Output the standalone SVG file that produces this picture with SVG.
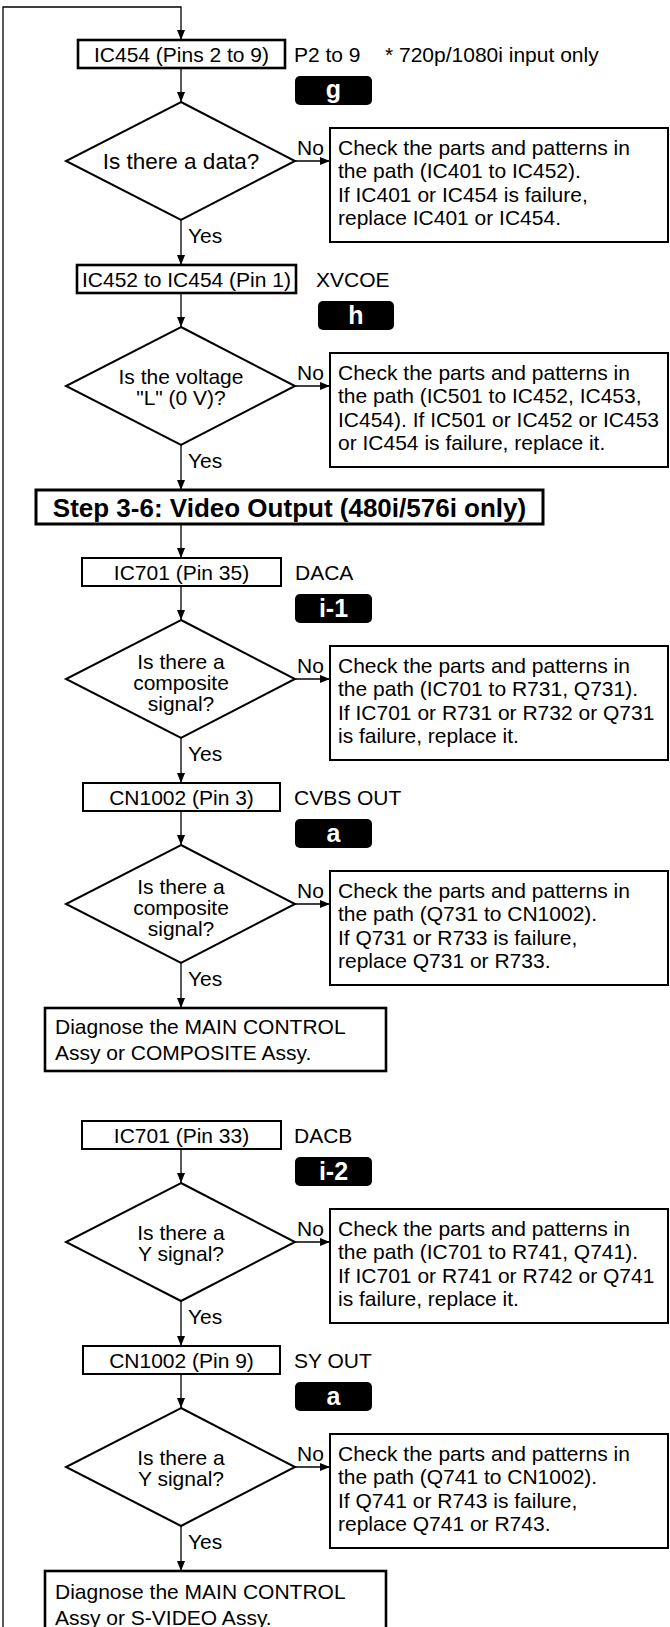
<svg xmlns="http://www.w3.org/2000/svg" width="670" height="1627" viewBox="0 0 670 1627">
<style>
.t{font-family:"Liberation Sans",Arial,sans-serif;font-size:21px;fill:#000}
.m{text-anchor:middle}
.h{font-family:"Liberation Sans",Arial,sans-serif;font-size:26px;font-weight:bold;fill:#000;text-anchor:middle}
.bt{font-family:"Liberation Sans",Arial,sans-serif;font-size:25px;font-weight:bold;fill:#fff;text-anchor:middle}
.box{fill:#fff;stroke:#000;stroke-width:2}
.thick{stroke-width:2.6}
.hdr{fill:#fff;stroke:#000;stroke-width:3}
.dia{fill:#fff;stroke:#000;stroke-width:2}
.badge{fill:#000}
.c{fill:none;stroke:#000;stroke-width:1.3;marker-end:url(#ah)}
</style>
<defs>
<marker id="ah" markerUnits="userSpaceOnUse" markerWidth="10" markerHeight="8" refX="10" refY="4" orient="auto">
<path d="M0,0 L10,4 L0,8 z" fill="#000"/>
</marker>
</defs>
<rect width="670" height="1627" fill="#fff"/>

<g id="connectors">
<path class="c" d="M3,1640 V7 H181 V40"/>
<path class="c" d="M181,68 V102"/>
<path class="c" d="M295,161 H330"/>
<path class="c" d="M181,220 V265"/>
<path class="c" d="M181,293 V327"/>
<path class="c" d="M295,386 H330"/>
<path class="c" d="M181,445 V490"/>
<path class="c" d="M181,524 V558"/>
<path class="c" d="M181,586 V620"/>
<path class="c" d="M295,679 H330"/>
<path class="c" d="M181,738 V783"/>
<path class="c" d="M181,811 V845"/>
<path class="c" d="M295,904 H330"/>
<path class="c" d="M181,963 V1008"/>
<path class="c" d="M181,1149 V1183"/>
<path class="c" d="M295,1242 H330"/>
<path class="c" d="M181,1301 V1346"/>
<path class="c" d="M181,1374 V1408"/>
<path class="c" d="M295,1467 H330"/>
<path class="c" d="M181,1526 V1571"/>
<text class="t" x="297" y="154.5">No</text>
<text class="t" x="188" y="242.5">Yes</text>
<text class="t" x="297" y="379.5">No</text>
<text class="t" x="188" y="467.5">Yes</text>
<text class="t" x="297" y="672.5">No</text>
<text class="t" x="188" y="760.5">Yes</text>
<text class="t" x="297" y="897.5">No</text>
<text class="t" x="188" y="985.5">Yes</text>
<text class="t" x="297" y="1235.5">No</text>
<text class="t" x="188" y="1323.5">Yes</text>
<text class="t" x="297" y="1460.5">No</text>
<text class="t" x="188" y="1548.5">Yes</text>
</g>

<g id="n1">
<rect class="box thick" x="78" y="40" width="207" height="28"/>
<text class="t m" x="181.5" y="61.5">IC454 (Pins 2 to 9)</text>
<text class="t" x="294" y="61.5">P2 to 9</text>
<text class="t" x="385" y="61.5">* 720p/1080i input only</text>
</g>
<g id="badge-g"><rect class="badge" x="295" y="76" width="77" height="29" rx="5"/><text class="bt" x="333.5" y="98">g</text></g>
<g id="d1">
<polygon class="dia" points="181,102 295,161 181,220 66,161"/>
<text class="t m" x="181" y="169" style="font-size:22.5px">Is there a data?</text>
</g>
<g id="c1">
<rect class="box" x="330" y="128" width="338" height="114"/>
<text class="t" x="338" y="154.5">Check the parts and patterns in</text>
<text class="t" x="338" y="178">the path (IC401 to IC452).</text>
<text class="t" x="338" y="201.5">If IC401 or IC454 is failure,</text>
<text class="t" x="338" y="225">replace IC401 or IC454.</text>
</g>

<g id="n2">
<rect class="box thick" x="77" y="265" width="219" height="28"/>
<text class="t m" x="186.5" y="286.5">IC452 to IC454 (Pin 1)</text>
<text class="t" x="316" y="286.5">XVCOE</text>
</g>
<g id="badge-h"><rect class="badge" x="318" y="301" width="76" height="29" rx="5"/><text class="bt" x="356" y="324">h</text></g>
<g id="d2">
<polygon class="dia" points="181,327 295,386 181,445 66,386"/>
<text class="t m" x="181" y="383.5">Is the voltage</text>
<text class="t m" x="181" y="404.5">"L" (0 V)?</text>
</g>
<g id="c2">
<rect class="box" x="330" y="353" width="338" height="114"/>
<text class="t" x="338" y="379.5">Check the parts and patterns in</text>
<text class="t" x="338" y="403">the path (IC501 to IC452, IC453,</text>
<text class="t" x="338" y="426.5">IC454). If IC501 or IC452 or IC453</text>
<text class="t" x="338" y="450">or IC454 is failure, replace it.</text>
</g>

<g id="step">
<rect class="hdr" x="36" y="490" width="507" height="34"/>
<text class="h" x="289.5" y="516.5">Step 3-6: Video Output (480i/576i only)</text>
</g>

<g id="n3">
<rect class="box" x="82" y="558" width="199" height="28"/>
<text class="t m" x="181.5" y="579.5">IC701 (Pin 35)</text>
<text class="t" x="295" y="579.5">DACA</text>
</g>
<g id="badge-i1"><rect class="badge" x="295" y="594" width="77" height="29" rx="5"/><text class="bt" x="333.5" y="617">i-1</text></g>
<g id="d3">
<polygon class="dia" points="181,620 295,679 181,738 66,679"/>
<text class="t m" x="181" y="668.5">Is there a</text>
<text class="t m" x="181" y="689.5">composite</text>
<text class="t m" x="181" y="710.5">signal?</text>
</g>
<g id="c3">
<rect class="box" x="330" y="646" width="338" height="114"/>
<text class="t" x="338" y="672.5">Check the parts and patterns in</text>
<text class="t" x="338" y="696">the path (IC701 to R731, Q731).</text>
<text class="t" x="338" y="719.5">If IC701 or R731 or R732 or Q731</text>
<text class="t" x="338" y="743">is failure, replace it.</text>
</g>

<g id="n4">
<rect class="box" x="83" y="783" width="197" height="28"/>
<text class="t m" x="181.5" y="804.5">CN1002 (Pin 3)</text>
<text class="t" x="294" y="804.5">CVBS OUT</text>
</g>
<g id="badge-a1"><rect class="badge" x="295" y="819" width="77" height="29" rx="5"/><text class="bt" x="333.5" y="842">a</text></g>
<g id="d4">
<polygon class="dia" points="181,845 295,904 181,963 66,904"/>
<text class="t m" x="181" y="893.5">Is there a</text>
<text class="t m" x="181" y="914.5">composite</text>
<text class="t m" x="181" y="935.5">signal?</text>
</g>
<g id="c4">
<rect class="box" x="330" y="871" width="338" height="114"/>
<text class="t" x="338" y="897.5">Check the parts and patterns in</text>
<text class="t" x="338" y="921">the path (Q731 to CN1002).</text>
<text class="t" x="338" y="944.5">If Q731 or R733 is failure,</text>
<text class="t" x="338" y="968">replace Q731 or R733.</text>
</g>

<g id="diag1">
<rect class="box thick" x="45" y="1008" width="341" height="63"/>
<text class="t" x="55" y="1034">Diagnose the MAIN CONTROL</text>
<text class="t" x="55" y="1060">Assy or COMPOSITE Assy.</text>
</g>

<g id="n5">
<rect class="box" x="82" y="1121" width="199" height="28"/>
<text class="t m" x="181.5" y="1142.5">IC701 (Pin 33)</text>
<text class="t" x="294" y="1142.5">DACB</text>
</g>
<g id="badge-i2"><rect class="badge" x="295" y="1157" width="77" height="29" rx="5"/><text class="bt" x="333.5" y="1180">i-2</text></g>
<g id="d5">
<polygon class="dia" points="181,1183 295,1242 181,1301 66,1242"/>
<text class="t m" x="181" y="1239.5">Is there a</text>
<text class="t m" x="181" y="1260.5">Y signal?</text>
</g>
<g id="c5">
<rect class="box" x="330" y="1209" width="338" height="114"/>
<text class="t" x="338" y="1235.5">Check the parts and patterns in</text>
<text class="t" x="338" y="1259">the path (IC701 to R741, Q741).</text>
<text class="t" x="338" y="1282.5">If IC701 or R741 or R742 or Q741</text>
<text class="t" x="338" y="1306">is failure, replace it.</text>
</g>

<g id="n6">
<rect class="box" x="83" y="1346" width="197" height="28"/>
<text class="t m" x="181.5" y="1367.5">CN1002 (Pin 9)</text>
<text class="t" x="294" y="1367.5">SY OUT</text>
</g>
<g id="badge-a2"><rect class="badge" x="295" y="1382" width="77" height="29" rx="5"/><text class="bt" x="333.5" y="1405">a</text></g>
<g id="d6">
<polygon class="dia" points="181,1408 295,1467 181,1526 66,1467"/>
<text class="t m" x="181" y="1464.5">Is there a</text>
<text class="t m" x="181" y="1485.5">Y signal?</text>
</g>
<g id="c6">
<rect class="box" x="330" y="1434" width="338" height="114"/>
<text class="t" x="338" y="1460.5">Check the parts and patterns in</text>
<text class="t" x="338" y="1484">the path (Q741 to CN1002).</text>
<text class="t" x="338" y="1507.5">If Q741 or R743 is failure,</text>
<text class="t" x="338" y="1531">replace Q741 or R743.</text>
</g>

<g id="diag2">
<rect class="box thick" x="45" y="1571" width="341" height="70"/>
<text class="t" x="55" y="1599">Diagnose the MAIN CONTROL</text>
<text class="t" x="55" y="1625">Assy or S-VIDEO Assy.</text>
</g>
</svg>
